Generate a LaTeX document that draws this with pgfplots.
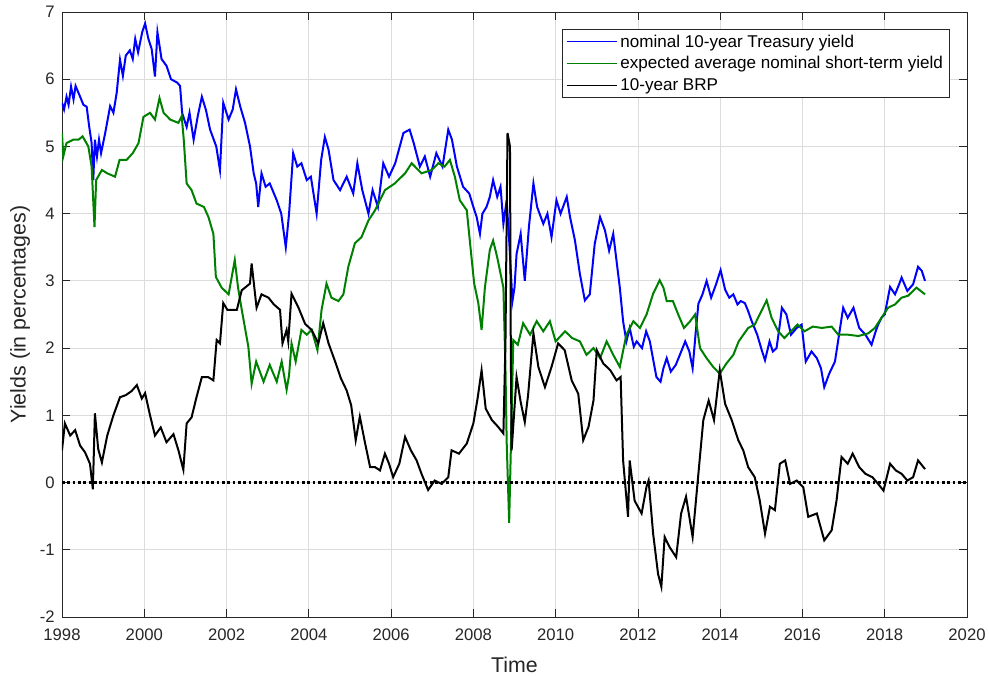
\documentclass[border=0pt]{standalone}
\usepackage{pgfplots}
\pgfplotsset{compat=1.18}
\usepackage{fontspec}
\setmainfont{Liberation Sans}
\definecolor{axgray}{HTML}{262626}
\definecolor{gridgray}{HTML}{DCDCDC}
\definecolor{mgreen}{rgb}{0,0.5,0}
\begin{document}
\begin{tikzpicture}
\begin{axis}[
  scale only axis,
  width=678.75pt, height=453.75pt,
  xmin=1998, xmax=2020, ymin=-2, ymax=7,
  xtick={1998,2000,...,2020}, ytick={-2,-1,...,7},
  /pgf/number format/assume math mode=true,
  xticklabel style={/pgf/number format/1000 sep=, font=\fontsize{12.5}{14}\selectfont, text=axgray, yshift=-5pt},
  yticklabel style={font=\fontsize{12.5}{14}\selectfont, text=axgray, xshift=-2pt},
  tick align=inside, major tick length=6pt,
  tick style={axgray, line width=0.6pt},
  axis line style={axgray, line width=0.6pt},
  grid=major, major grid style={gridgray, line width=0.6pt},
  xlabel={Time}, ylabel={Yields (in percentages)},
  xlabel style={at={(axis description cs:0.5,0)}, anchor=center, yshift=-36pt, font=\fontsize{16}{19}\selectfont, text=axgray},
  ylabel style={at={(axis description cs:-0.0464,0.5)}, anchor=center, font=\fontsize{16}{19}\selectfont, text=axgray},
  legend cell align=left,
  legend style={at={(rel axis cs:0.9812,0.9719)}, anchor=north east, draw=axgray, line width=0.6pt, fill=white,
    font=\fontsize{12.8}{15}\selectfont, text=black, inner xsep=3pt, inner ysep=2pt, row sep=1.5pt},
  legend image code/.code={\draw[#1, line width=0.8pt] (0pt,0pt) -- (38pt,0pt);},
]
\addplot[blue, line width=1.5pt] coordinates {
(1998.00,5.65)(1998.05,5.55)(1998.11,5.74)(1998.16,5.62)(1998.22,5.89)(1998.28,5.70)(1998.33,5.90)(1998.44,5.74)(1998.52,5.62)(1998.60,5.59)(1998.66,5.30)(1998.72,5.05)(1998.76,4.50)(1998.80,5.10)(1998.85,4.85)(1998.90,5.10)(1998.95,4.90)(1999.05,5.20)(1999.17,5.60)(1999.25,5.50)(1999.33,5.80)(1999.41,6.29)(1999.48,6.05)(1999.55,6.35)(1999.65,6.43)(1999.72,6.30)(1999.78,6.60)(1999.85,6.40)(1999.95,6.70)(2000.02,6.83)(2000.10,6.60)(2000.18,6.45)(2000.26,6.04)(2000.32,6.70)(2000.42,6.30)(2000.54,6.20)(2000.65,6.00)(2000.80,5.95)(2000.87,5.90)(2000.92,5.50)(2001.03,5.29)(2001.10,5.50)(2001.20,5.10)(2001.30,5.45)(2001.40,5.74)(2001.50,5.54)(2001.60,5.25)(2001.75,5.00)(2001.84,4.65)(2001.92,5.65)(2002.05,5.40)(2002.15,5.55)(2002.23,5.85)(2002.33,5.60)(2002.45,5.35)(2002.57,5.00)(2002.66,4.60)(2002.72,4.45)(2002.77,4.10)(2002.85,4.60)(2002.95,4.40)(2003.05,4.45)(2003.22,4.20)(2003.33,4.00)(2003.44,3.50)(2003.52,4.00)(2003.62,4.90)(2003.72,4.70)(2003.82,4.75)(2003.95,4.50)(2004.05,4.55)(2004.19,4.00)(2004.30,4.80)(2004.39,5.14)(2004.48,4.95)(2004.60,4.50)(2004.76,4.35)(2004.92,4.55)(2005.08,4.30)(2005.18,4.75)(2005.30,4.35)(2005.45,4.00)(2005.55,4.35)(2005.68,4.10)(2005.81,4.75)(2005.95,4.55)(2006.10,4.75)(2006.30,5.20)(2006.45,5.25)(2006.55,5.05)(2006.70,4.70)(2006.82,4.85)(2006.95,4.55)(2007.10,4.90)(2007.25,4.70)(2007.39,5.25)(2007.48,5.10)(2007.60,4.70)(2007.75,4.40)(2007.90,4.30)(2008.00,4.10)(2008.08,3.95)(2008.16,3.70)(2008.22,4.00)(2008.32,4.10)(2008.40,4.25)(2008.48,4.50)(2008.58,4.25)(2008.66,4.40)(2008.73,3.85)(2008.81,4.20)(2008.88,3.50)(2008.95,2.70)(2009.00,2.90)(2009.05,3.40)(2009.15,3.70)(2009.25,3.00)(2009.35,3.80)(2009.46,4.45)(2009.55,4.10)(2009.70,3.85)(2009.80,4.00)(2009.90,3.65)(2010.02,4.20)(2010.12,4.00)(2010.27,4.25)(2010.35,3.95)(2010.47,3.60)(2010.59,3.10)(2010.71,2.71)(2010.83,2.80)(2010.95,3.55)(2011.08,3.95)(2011.20,3.75)(2011.30,3.45)(2011.40,3.70)(2011.48,3.30)(2011.56,2.90)(2011.64,2.40)(2011.72,2.10)(2011.80,2.30)(2011.90,2.02)(2011.97,2.10)(2012.10,2.00)(2012.20,2.25)(2012.29,2.10)(2012.38,1.80)(2012.45,1.57)(2012.55,1.50)(2012.62,1.70)(2012.70,1.85)(2012.80,1.65)(2012.92,1.75)(2013.02,1.90)(2013.15,2.10)(2013.25,1.95)(2013.33,1.70)(2013.40,2.20)(2013.47,2.66)(2013.57,2.80)(2013.67,3.00)(2013.78,2.75)(2013.90,2.95)(2014.01,3.16)(2014.12,2.87)(2014.22,2.75)(2014.32,2.80)(2014.42,2.65)(2014.50,2.70)(2014.60,2.67)(2014.68,2.55)(2014.76,2.41)(2014.90,2.20)(2015.02,1.95)(2015.09,1.82)(2015.20,2.10)(2015.28,1.95)(2015.37,2.00)(2015.45,2.35)(2015.50,2.60)(2015.61,2.50)(2015.72,2.20)(2015.86,2.30)(2015.98,2.35)(2016.08,1.80)(2016.22,1.95)(2016.35,1.85)(2016.45,1.70)(2016.53,1.42)(2016.65,1.62)(2016.79,1.80)(2016.89,2.20)(2016.99,2.60)(2017.10,2.45)(2017.24,2.60)(2017.38,2.30)(2017.53,2.20)(2017.68,2.05)(2017.78,2.25)(2017.84,2.35)(2017.92,2.45)(2018.00,2.50)(2018.13,2.91)(2018.25,2.80)(2018.35,2.95)(2018.41,3.05)(2018.55,2.85)(2018.69,2.95)(2018.81,3.21)(2018.90,3.15)(2018.98,3.00)
};
\addlegendentry{nominal 10-year Treasury yield}
\addplot[mgreen, line width=1.5pt] coordinates {
(1998.00,5.20)(1998.03,4.85)(1998.11,5.05)(1998.27,5.10)(1998.40,5.10)(1998.50,5.15)(1998.64,5.00)(1998.72,4.70)(1998.79,3.80)(1998.83,4.50)(1998.97,4.65)(1999.10,4.60)(1999.29,4.55)(1999.40,4.80)(1999.57,4.80)(1999.72,4.90)(1999.86,5.05)(1999.98,5.44)(2000.14,5.50)(2000.26,5.40)(2000.37,5.72)(2000.47,5.50)(2000.63,5.40)(2000.83,5.35)(2000.91,5.45)(2000.96,5.10)(2001.03,4.45)(2001.15,4.35)(2001.27,4.15)(2001.45,4.10)(2001.56,3.95)(2001.68,3.70)(2001.74,3.06)(2001.88,2.90)(2002.05,2.80)(2002.20,3.31)(2002.28,2.90)(2002.37,2.57)(2002.53,2.02)(2002.61,1.47)(2002.72,1.80)(2002.90,1.50)(2003.05,1.75)(2003.22,1.50)(2003.34,1.80)(2003.46,1.38)(2003.52,1.60)(2003.58,2.07)(2003.68,1.80)(2003.82,2.27)(2003.95,2.20)(2004.07,2.27)(2004.21,1.97)(2004.31,2.57)(2004.43,2.96)(2004.55,2.75)(2004.72,2.70)(2004.84,2.80)(2004.96,3.21)(2005.12,3.56)(2005.28,3.65)(2005.45,3.90)(2005.61,4.05)(2005.85,4.35)(2006.09,4.45)(2006.34,4.60)(2006.50,4.75)(2006.74,4.60)(2006.99,4.65)(2007.15,4.75)(2007.30,4.70)(2007.43,4.80)(2007.55,4.55)(2007.67,4.20)(2007.84,4.05)(2007.92,3.56)(2008.02,2.96)(2008.12,2.67)(2008.20,2.27)(2008.28,2.90)(2008.40,3.46)(2008.48,3.60)(2008.58,3.35)(2008.73,2.90)(2008.78,1.70)(2008.81,0.60)(2008.87,-0.60)(2008.93,1.00)(2008.97,2.12)(2009.08,2.05)(2009.21,2.37)(2009.38,2.20)(2009.54,2.40)(2009.70,2.25)(2009.86,2.40)(2010.00,2.10)(2010.23,2.25)(2010.40,2.15)(2010.59,2.10)(2010.75,1.90)(2010.92,2.00)(2011.08,1.85)(2011.24,2.10)(2011.40,1.90)(2011.56,1.72)(2011.72,2.20)(2011.89,2.40)(2012.05,2.30)(2012.21,2.50)(2012.37,2.81)(2012.53,3.01)(2012.62,2.90)(2012.70,2.70)(2012.85,2.70)(2012.98,2.50)(2013.12,2.30)(2013.27,2.40)(2013.39,2.50)(2013.51,2.00)(2013.67,1.85)(2013.83,1.72)(2013.99,1.62)(2014.15,1.77)(2014.32,1.90)(2014.45,2.10)(2014.68,2.30)(2014.84,2.35)(2015.00,2.55)(2015.13,2.71)(2015.25,2.45)(2015.41,2.25)(2015.56,2.15)(2015.72,2.25)(2015.88,2.35)(2016.05,2.25)(2016.25,2.32)(2016.47,2.30)(2016.71,2.32)(2016.87,2.20)(2017.10,2.20)(2017.36,2.18)(2017.60,2.22)(2017.76,2.30)(2017.92,2.45)(2018.08,2.60)(2018.25,2.65)(2018.41,2.75)(2018.57,2.78)(2018.77,2.90)(2018.98,2.80)
};
\addlegendentry{expected average nominal short-term yield}
\addplot[black, line width=1.5pt] coordinates {
(1998.00,0.48)(1998.07,0.88)(1998.20,0.70)(1998.32,0.78)(1998.44,0.55)(1998.56,0.45)(1998.68,0.28)(1998.75,-0.10)(1998.80,1.03)(1998.88,0.50)(1998.97,0.30)(1999.10,0.70)(1999.25,1.00)(1999.41,1.27)(1999.55,1.30)(1999.69,1.36)(1999.82,1.45)(1999.94,1.25)(2000.02,1.33)(2000.14,1.00)(2000.26,0.70)(2000.40,0.82)(2000.54,0.60)(2000.71,0.72)(2000.83,0.48)(2000.95,0.19)(2001.03,0.88)(2001.15,0.97)(2001.27,1.27)(2001.40,1.57)(2001.55,1.57)(2001.68,1.52)(2001.76,2.12)(2001.84,2.07)(2001.92,2.67)(2002.02,2.57)(2002.12,2.57)(2002.25,2.57)(2002.37,2.86)(2002.57,2.96)(2002.61,3.26)(2002.73,2.60)(2002.85,2.80)(2003.02,2.75)(2003.15,2.65)(2003.30,2.57)(2003.36,2.07)(2003.46,2.27)(2003.50,2.10)(2003.58,2.81)(2003.75,2.60)(2003.91,2.36)(2004.07,2.27)(2004.23,2.07)(2004.35,2.37)(2004.48,2.07)(2004.64,1.80)(2004.78,1.55)(2004.92,1.37)(2005.03,1.15)(2005.14,0.63)(2005.24,0.98)(2005.37,0.58)(2005.49,0.23)(2005.61,0.23)(2005.73,0.18)(2005.85,0.43)(2005.95,0.28)(2006.05,0.08)(2006.20,0.28)(2006.34,0.68)(2006.48,0.48)(2006.62,0.33)(2006.74,0.13)(2006.90,-0.11)(2007.06,0.03)(2007.23,-0.02)(2007.39,0.08)(2007.47,0.48)(2007.65,0.43)(2007.84,0.58)(2008.00,0.88)(2008.10,1.24)(2008.20,1.67)(2008.30,1.10)(2008.45,0.93)(2008.60,0.83)(2008.73,0.73)(2008.78,2.07)(2008.83,5.20)(2008.89,5.00)(2008.91,2.00)(2008.93,0.48)(2009.05,1.57)(2009.15,1.20)(2009.25,0.90)(2009.33,1.30)(2009.46,2.22)(2009.58,1.72)(2009.74,1.42)(2009.90,1.72)(2010.06,2.07)(2010.22,1.97)(2010.39,1.52)(2010.55,1.32)(2010.67,0.63)(2010.80,0.83)(2010.92,1.22)(2011.00,1.97)(2011.16,1.77)(2011.33,1.67)(2011.48,1.52)(2011.58,1.57)(2011.64,0.33)(2011.76,-0.51)(2011.80,0.33)(2011.92,-0.27)(2012.09,-0.46)(2012.21,-0.06)(2012.26,0.03)(2012.37,-0.76)(2012.49,-1.36)(2012.57,-1.55)(2012.65,-0.81)(2012.77,-0.96)(2012.93,-1.11)(2013.05,-0.46)(2013.17,-0.21)(2013.33,-0.81)(2013.47,0.13)(2013.59,0.93)(2013.72,1.22)(2013.85,0.93)(2013.99,1.67)(2014.12,1.17)(2014.28,0.93)(2014.44,0.63)(2014.56,0.48)(2014.68,0.23)(2014.84,0.08)(2014.96,-0.26)(2015.09,-0.76)(2015.21,-0.36)(2015.33,-0.41)(2015.45,0.28)(2015.58,0.33)(2015.70,-0.02)(2015.86,0.03)(2016.02,-0.07)(2016.14,-0.51)(2016.35,-0.46)(2016.53,-0.86)(2016.71,-0.71)(2016.83,-0.26)(2016.95,0.38)(2017.10,0.28)(2017.22,0.43)(2017.38,0.23)(2017.53,0.13)(2017.70,0.08)(2017.84,-0.02)(2017.97,-0.12)(2018.13,0.28)(2018.27,0.18)(2018.41,0.13)(2018.55,0.03)(2018.69,0.08)(2018.81,0.33)(2018.98,0.20)
};
\addlegendentry{10-year BRP}
\addplot[black, line width=1.8pt, dash pattern=on 2pt off 2pt, forget plot] coordinates {(1998,0)(2020,0)};
\end{axis}
\pgfresetboundingbox
\path ([shift={(-46.5pt,-44pt)}]current axis.south west) rectangle ([shift={(16.5pt,9pt)}]current axis.north east);
\end{tikzpicture}
\end{document}
